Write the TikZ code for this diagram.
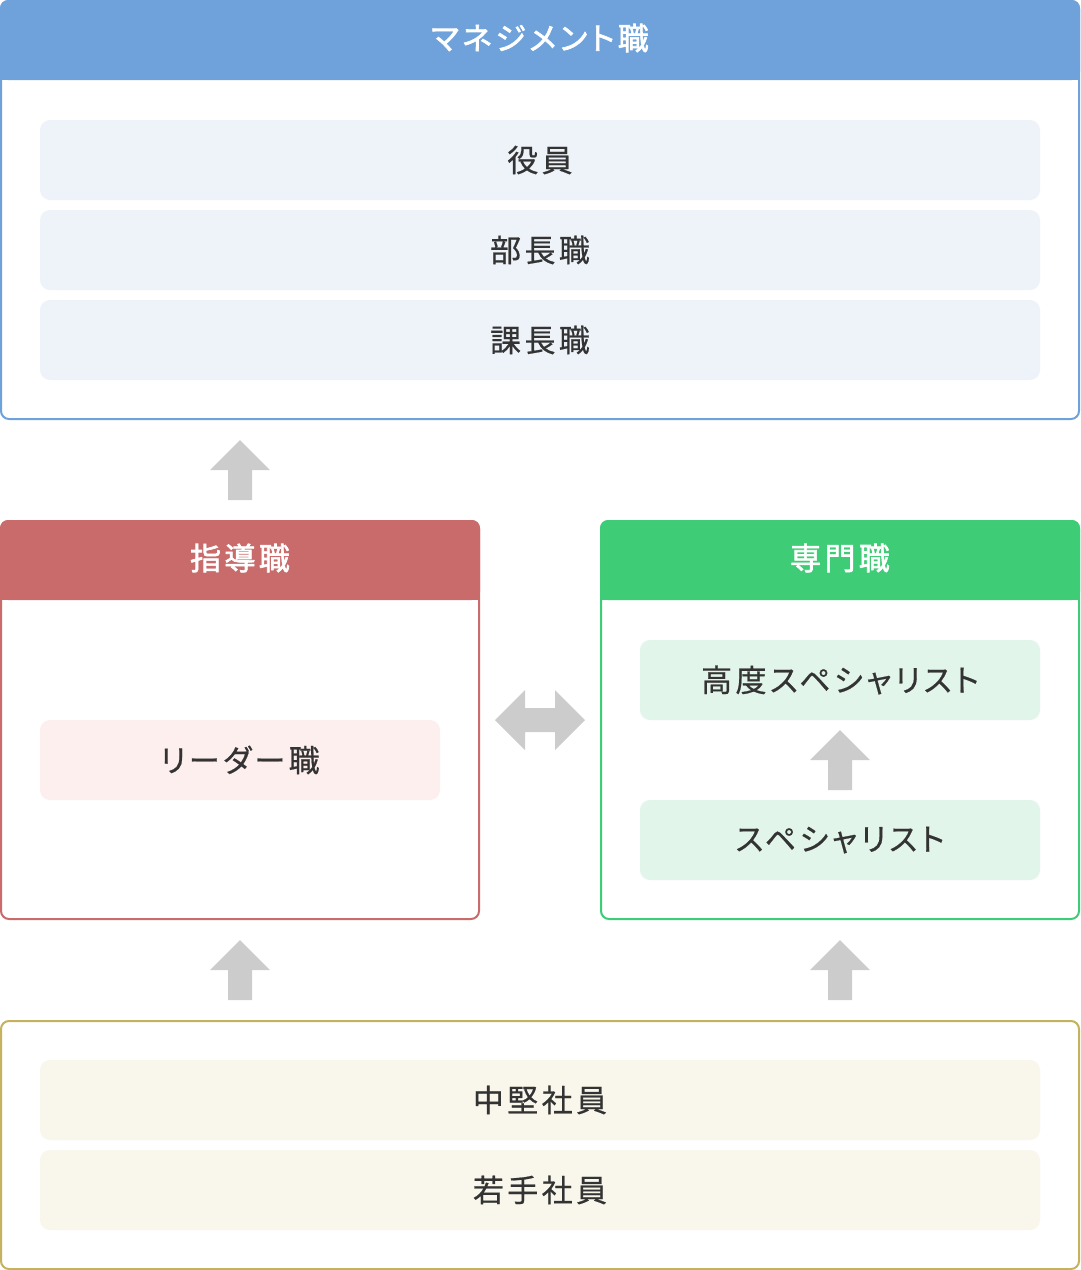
\documentclass[tikz,border=0pt]{standalone}
\usepackage{fontspec}
\setmainfont{Noto Sans CJK JP}[LetterSpace=10]
\newfontfamily\itemfont{Noto Sans CJK JP}[LetterSpace=11, FakeBold=0.6, RawFeature=+palt]
\newfontfamily\titlefont{Noto Sans CJK JP}[LetterSpace=11, FakeBold=2, RawFeature=+palt]
\definecolor{mblue}{HTML}{6FA2DA}
\definecolor{mbluel}{HTML}{EEF3FA}
\definecolor{lred}{HTML}{C86B6A}
\definecolor{lredl}{HTML}{FEEFEF}
\definecolor{sgreen}{HTML}{3FCC76}
\definecolor{sgreenl}{HTML}{E2F5EA}
\definecolor{jgold}{HTML}{C5B25E}
\definecolor{jgoldl}{HTML}{F9F7EC}
\definecolor{agray}{HTML}{CCCCCC}
\definecolor{txt}{HTML}{333333}
\newcommand\blockup[1]{\fill[agray] (#1) -- ++(30,30) -- ++(-18,0) -- ++(0,30) -- ++(-24,0) -- ++(0,-30) -- ++(-18,0) -- cycle;}
\begin{document}
\begin{tikzpicture}[x=1pt,y=-1pt,
  frame/.style={draw, line width=2pt, rounded corners=8pt, fill=white, inner sep=0pt},
  item/.style={rounded corners=10pt, minimum width=1000pt, minimum height=80pt, inner sep=0pt, text=txt, font=\itemfont\fontsize{31}{36}\selectfont},
  title/.style={text=white, inner sep=0pt, font=\titlefont\fontsize{31}{36}\selectfont}]
\useasboundingbox (0,0) rectangle (1080,1270);

% management
\node[frame, draw=mblue, minimum width=1078pt, minimum height=418pt] (mgmt) at (540,210) {};
\fill[mblue, rounded corners=8pt] (0,0) rectangle (1080,80);
\fill[mblue] (0,40) rectangle (1080,80);
\node[title] (mgmtt) at (540,38) {マネジメント職};
\node[item, fill=mbluel] (yakuin) at (540,160) {役員};
\node[item, fill=mbluel] (bucho) at (540,250) {部長職};
\node[item, fill=mbluel] (kacho) at (540,340) {課長職};

% leader
\node[frame, draw=lred, minimum width=478pt, minimum height=398pt] (lead) at (240,720) {};
\fill[lred, rounded corners=8pt] (0,520) rectangle (480,600);
\fill[lred] (0,560) rectangle (480,600);
\node[title] (leadt) at (240,558) {指導職};
\node[item, fill=lredl, minimum width=400pt] (leader) at (240,760) {リーダー職};

% specialist
\node[frame, draw=sgreen, minimum width=478pt, minimum height=398pt] (spec) at (840,720) {};
\fill[sgreen, rounded corners=8pt] (600,520) rectangle (1080,600);
\fill[sgreen] (600,560) rectangle (1080,600);
\node[title] (spect) at (840,558) {専門職};
\node[item, fill=sgreenl, minimum width=400pt] (koudo) at (840,680) {高度スペシャリスト};
\node[item, fill=sgreenl, minimum width=400pt] (speci) at (840,840) {スペシャリスト};

% juniors
\node[frame, draw=jgold, minimum width=1078pt, minimum height=248pt] (junior) at (540,1145) {};
\node[item, fill=jgoldl] (chuken) at (540,1100) {中堅社員};
\node[item, fill=jgoldl] (wakate) at (540,1190) {若手社員};

% arrows
\coordinate (a1) at (240,440);
\coordinate (a2) at (840,730);
\coordinate (a3) at (240,940);
\coordinate (a4) at (840,940);
\blockup{a1}
\blockup{a2}
\blockup{a3}
\blockup{a4}
\coordinate (dl) at (495,720);
\fill[agray] (dl) -- ++(30,-30) -- ++(0,18) -- ++(30,0) -- ++(0,-18) -- ++(30,30) -- ++(-30,30) -- ++(0,-18) -- ++(-30,0) -- ++(0,18) -- cycle;
\end{tikzpicture}
\end{document}
